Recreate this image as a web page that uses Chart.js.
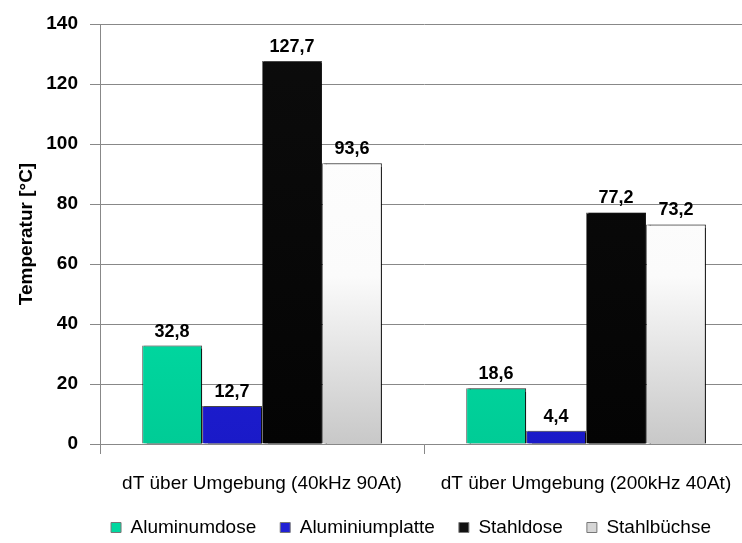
<!DOCTYPE html>
<html lang="de">
<head>
<meta charset="utf-8">
<title>Temperaturerhöhung</title>
<script src="https://cdn.jsdelivr.net/npm/chart.js@4.4.1/dist/chart.umd.min.js"></script>
<style>
  html, body { margin: 0; padding: 0; background: #ffffff; overflow: hidden; }
  #wrap { width: 742px; height: 543px; overflow: hidden; }
  canvas { display: block; }
</style>
</head>
<body>
<div id="wrap"><canvas id="chart" width="750" height="543"></canvas></div>
<script>
// Kategorien (Messbedingungen)
const categories = ['dT über Umgebung (40kHz 90At)', 'dT über Umgebung (200kHz 40At)'];

// Temperaturerhöhung je Probe in °C
const aluminumdose = [32.8, 18.6];
const aluminiumplatte = [12.7, 4.4];
const stahldose = [127.7, 77.2];
const stahlbuechse = [93.6, 73.2];

const seriesNames = ['Aluminumdose', 'Aluminiumplatte', 'Stahldose', 'Stahlbüchse'];

// Achse
const yMin = 0, yMax = 140, yStep = 20;
const yTitle = 'Temperatur [°C]';

const FONT = "'Liberation Sans', Arial, sans-serif";

// Farbverläufe der Balken (oben -> unten)
const gradientStops = [
  [[0, '#00f4b8'], [1, '#00cc96']],
  [[0, '#2a2aec'], [1, '#1a1ac8']],
  [[0, '#0c0c0c'], [1, '#040404']],
  [[0, '#ffffff'], [0.6, '#fbfbfb'], [1, '#c8c8c8']]
];
const legendColors = ['#00d8a0', '#2020d4', '#111111', '#d6d6d6'];

function barFill(idx) {
  return (ctx) => {
    const area = ctx.chart.chartArea;
    if (!area) return legendColors[idx];
    const g = ctx.chart.ctx.createLinearGradient(0, area.top, 0, area.bottom);
    gradientStops[idx].forEach(([o, c]) => g.addColorStop(o, c));
    return g;
  };
}

const seriesValues = [aluminumdose, aluminiumplatte, stahldose, stahlbuechse];

const datasets = seriesValues.map((vals, i) => ({
  label: seriesNames[i],
  data: vals,
  backgroundColor: barFill(i),
  borderColor: 'rgba(0,0,0,0.55)',
  borderWidth: { left: 1, right: 1, top: 1, bottom: 0 },
  borderSkipped: 'bottom',
  categoryPercentage: 0.74,
  barPercentage: 1.0
}));

// Wertebeschriftung über den Balken (Dezimalkomma)
const valueLabels = {
  id: 'valueLabels',
  afterDatasetsDraw(chart) {
    const { ctx } = chart;
    ctx.save();
    ctx.font = `bold 18px ${FONT}`;
    ctx.fillStyle = '#000000';
    ctx.textAlign = 'center';
    ctx.textBaseline = 'alphabetic';
    chart.data.datasets.forEach((ds, di) => {
      const meta = chart.getDatasetMeta(di);
      meta.data.forEach((bar, i) => {
        const v = ds.data[i];
        ctx.fillText(v.toFixed(1).replace('.', ','), bar.x, bar.y - 9);
      });
    });
    ctx.restore();
  }
};

// Schlagschatten rechts neben den Balken
const barShadow = {
  id: 'barShadow',
  beforeDatasetsDraw(chart) {
    const { ctx } = chart;
    ctx.save();
    ctx.shadowColor = 'rgba(0,0,0,0.85)';
    ctx.shadowBlur = 1;
    ctx.shadowOffsetX = 2;
    ctx.shadowOffsetY = 0;
  },
  afterDatasetsDraw(chart) {
    chart.ctx.restore();
  }
};

// Legende unter dem Diagramm verschieben
const legendOffset = {
  id: 'legendOffset',
  afterLayout(chart) {
    const l = chart.legend;
    if (!l) return;
    const dx = 37, dy = -10;
    l.left += dx; l.right += dx;
    l.top += dy; l.bottom += dy;
  }
};

new Chart(document.getElementById('chart'), {
  type: 'bar',
  data: { labels: categories, datasets },
  plugins: [barShadow, valueLabels, legendOffset],
  options: {
    responsive: false,
    animation: false,
    layout: { padding: { top: 24, right: 2, bottom: -14, left: 0 } },
    plugins: {
      legend: {
        position: 'bottom',
        labels: {
          font: { family: FONT, size: 19 },
          color: '#000000',
          boxWidth: 10,
          boxHeight: 10,
          padding: 24,
          generateLabels(chart) {
            return chart.data.datasets.map((ds, i) => ({
              text: ds.label,
              fillStyle: legendColors[i],
              strokeStyle: '#777777',
              lineWidth: 1,
              hidden: false,
              datasetIndex: i,
              fontColor: '#000000'
            }));
          }
        }
      },
      tooltip: { enabled: false }
    },
    scales: {
      x: {
        offset: true,
        grid: {
          offset: true,
          drawOnChartArea: false,
          drawTicks: true,
          tickLength: 10,
          color: '#888888'
        },
        border: { color: '#888888', width: 1 },
        ticks: {
          font: { family: FONT, size: 19 },
          color: '#000000',
          padding: 18,
          maxRotation: 0
        },
        afterFit(scale) { scale.height = 60; }
      },
      y: {
        min: yMin,
        max: yMax,
        ticks: {
          stepSize: yStep,
          font: { family: FONT, size: 19, weight: 'bold' },
          color: '#000000',
          padding: 12
        },
        grid: {
          color: '#888888',
          lineWidth: 1,
          tickLength: 10,
          drawTicks: true
        },
        border: { color: '#888888', width: 1 },
        title: {
          display: true,
          text: yTitle,
          font: { family: FONT, size: 19, weight: 'bold' },
          color: '#000000',
          padding: { top: 15, bottom: 0 }
        },
        afterFit(scale) { scale.width = 100; }
      }
    }
  }
});
</script>
</body>
</html>
